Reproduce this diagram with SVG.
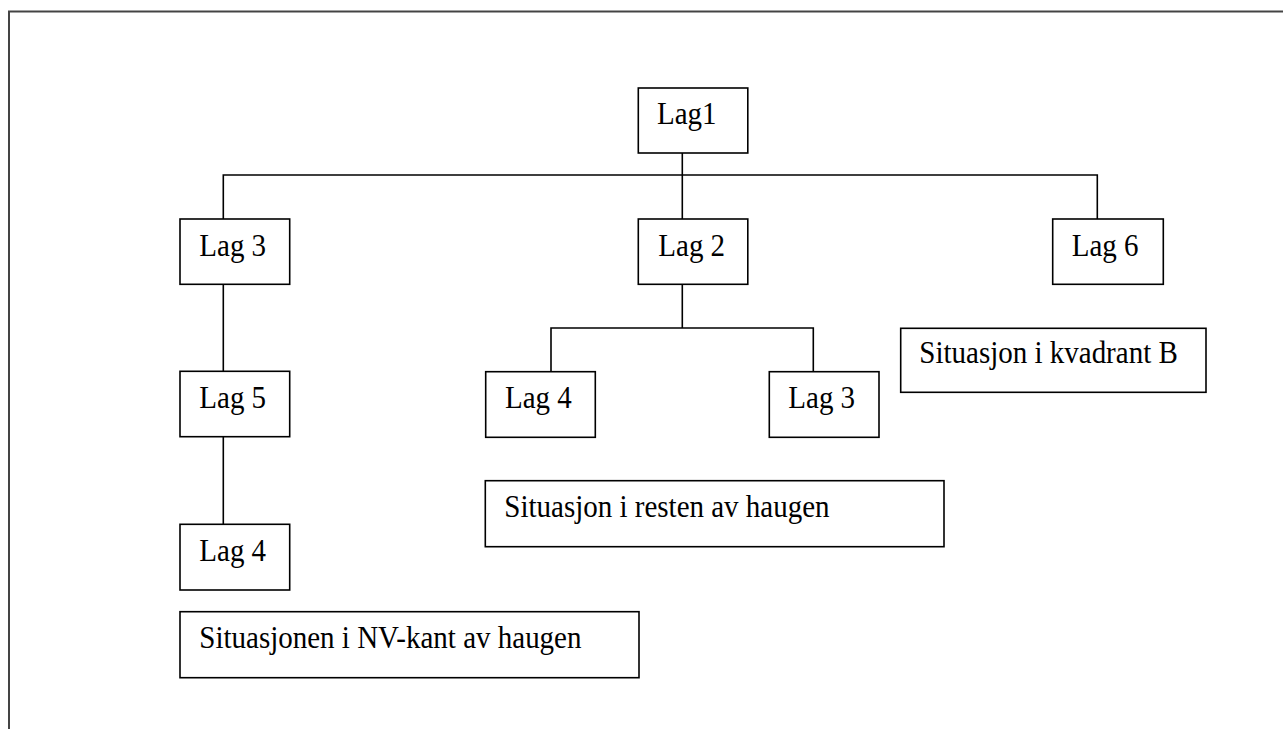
<svg xmlns="http://www.w3.org/2000/svg" width="1283" height="729" viewBox="0 0 1283 729">
<style>
.box{fill:#fff;stroke:#000;stroke-width:1.6}
.lbl{font-family:"Liberation Serif","Times New Roman",serif;font-size:29px;fill:#000}
.con{fill:none;stroke:#000;stroke-width:1.6}
.frame{fill:none;stroke:#444;stroke-width:2}
</style>
<rect width="1283" height="729" fill="#fff"/>
<path class="frame" d="M9,729 V11.5 H1283"/>
<g id="connectors">
<path class="con" d="M682.3,153 V219"/>
<path class="con" d="M223.3,219 V175 H1097.3 V219"/>
<path class="con" d="M223.3,284.3 V371.3"/>
<path class="con" d="M223.3,436.7 V524.3"/>
<path class="con" d="M682.3,284.3 V328 M551,371.7 V328 H813.3 V371.7"/>
</g>
<g id="lag1"><rect class="box" x="638.3" y="88" width="109.5" height="65"/><text class="lbl" transform="translate(657,124) scale(1,1.08)">Lag1</text></g>
<g id="lag3a"><rect class="box" x="180" y="219" width="109.7" height="65.3"/><text class="lbl" transform="translate(199.3,255.7) scale(1,1.08)">Lag 3</text></g>
<g id="lag2"><rect class="box" x="638.3" y="219" width="109.5" height="65.3"/><text class="lbl" transform="translate(658.3,255.7) scale(1,1.08)">Lag 2</text></g>
<g id="lag6"><rect class="box" x="1052.7" y="219" width="110.6" height="65.3"/><text class="lbl" transform="translate(1071.7,255.7) scale(1,1.08)">Lag 6</text></g>
<g id="lag5"><rect class="box" x="180" y="371.3" width="109.7" height="65.4"/><text class="lbl" transform="translate(199.3,408) scale(1,1.08)">Lag 5</text></g>
<g id="lag4a"><rect class="box" x="180" y="524.3" width="109.7" height="65.7"/><text class="lbl" transform="translate(199.3,561) scale(1,1.08)">Lag 4</text></g>
<g id="lag4b"><rect class="box" x="485.7" y="371.7" width="109.6" height="65.6"/><text class="lbl" transform="translate(505,408.3) scale(1,1.08)">Lag 4</text></g>
<g id="lag3b"><rect class="box" x="769.3" y="371.7" width="109.7" height="65.6"/><text class="lbl" transform="translate(788.3,408.3) scale(1,1.08)">Lag 3</text></g>
<g id="kvadrantB"><rect class="box" x="900.7" y="328.3" width="305.3" height="64"/><text class="lbl" transform="translate(919.3,363.3) scale(1,1.08)">Situasjon i kvadrant B</text></g>
<g id="resten"><rect class="box" x="485.3" y="480.7" width="458.7" height="66"/><text class="lbl" transform="translate(504.3,516.7) scale(1,1.08)">Situasjon i resten av haugen</text></g>
<g id="nvkant"><rect class="box" x="180" y="611.7" width="459" height="66"/><text class="lbl" transform="translate(199.3,647.7) scale(1,1.08)">Situasjonen i NV-kant av haugen</text></g>
</svg>
